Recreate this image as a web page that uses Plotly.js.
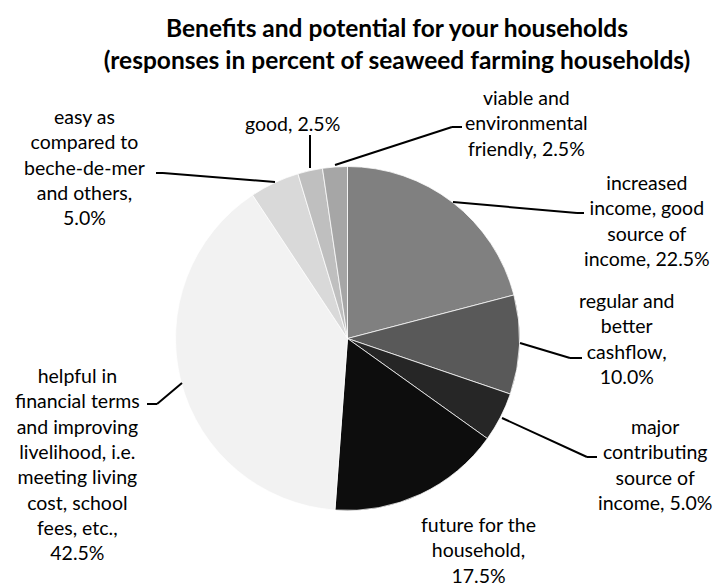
<!DOCTYPE html>
<html>
<head>
<meta charset="utf-8">
<script src="https://cdn.plot.ly/plotly-3.0.1.min.js"></script>
<style>html,body{margin:0;padding:0;background:#fff;}#chart{width:713px;height:586px;}</style>
</head>
<body>
<div id="chart"></div>
<script>
// Data
const categories = [
  "increased income, good source of income",
  "regular and better cashflow",
  "major contributing source of income",
  "future for the household",
  "helpful in financial terms and improving livelihood, i.e. meeting living cost, school fees, etc.",
  "easy as compared to beche-de-mer and others",
  "good",
  "viable and environmental friendly"
];
const values = [22.5, 10.0, 5.0, 17.5, 42.5, 5.0, 2.5, 2.5];
const labelTexts = [
  "increased<br>income, good<br>source of<br>income, 22.5%",
  "regular and<br>better<br>cashflow,<br>10.0%",
  "major<br>contributing<br>source of<br>income, 5.0%",
  "future for the<br>household,<br>17.5%",
  "helpful in<br>financial terms<br>and improving<br>livelihood, i.e.<br>meeting living<br>cost, school<br>fees, etc.,<br>42.5%",
  "easy as<br>compared to<br>beche-de-mer<br>and others,<br>5.0%",
  "good, 2.5%",
  "viable and<br>environmental<br>friendly, 2.5%"
];
const colors = ["#808080", "#595959", "#262626", "#0d0d0d", "#f2f2f2", "#d9d9d9", "#bfbfbf", "#a6a6a6"];

// Layout helpers (pixel -> paper)
const W = 713, H = 586;
const px = x => x / W;
const py = y => 1 - y / H;

// label centre positions (pixels)
const labelPos = [
  [647, 220], [626, 339], [655, 464], [478, 550],
  [77, 464], [84, 167], [292, 123], [526, 123]
];
// leader lines (pixel polylines)
const leaders = [
  [[453, 202], [577, 213], [584, 213]],
  [[520, 343], [570, 358], [582, 358]],
  [[502, 418], [587, 457], [597, 457]],
  null,
  [[182, 383], [157, 404], [147, 404]],
  [[275, 182], [163, 173], [156, 173]],
  [[310, 168], [310, 135]],
  [[335, 165], [452, 127], [462, 127]]
];

const font = "Lato, 'Open Sans', sans-serif";
const annotations = labelTexts.map((t, i) => ({
  text: t, xref: "paper", yref: "paper",
  x: px(labelPos[i][0]), y: py(labelPos[i][1]),
  xanchor: "center", yanchor: "middle", showarrow: false, align: "center",
  font: {family: font, size: 19.5, color: "#000"}
}));
const shapes = [];
leaders.forEach(l => {
  if (!l) return;
  for (let k = 0; k < l.length - 1; k++) {
    shapes.push({type: "line", xref: "paper", yref: "paper",
      x0: px(l[k][0]), y0: py(l[k][1]), x1: px(l[k+1][0]), y1: py(l[k+1][1]),
      line: {color: "#000", width: 2}});
  }
});

const cx = 347.5, cy = 338.5, r = 172;
const data = [{
  type: "pie",
  labels: categories,
  values: values,
  sort: false,
  direction: "clockwise",
  rotation: 0,
  textinfo: "none",
  hoverinfo: "label+percent",
  marker: {colors: colors, line: {color: "#ffffff", width: 0.75}},
  domain: {x: [px(cx - r), px(cx + r)], y: [py(cy + r), py(cy - r)]},
  showlegend: false
}];

const layout = {
  width: W, height: H,
  margin: {l: 0, r: 0, t: 0, b: 0},
  paper_bgcolor: "#fff",
  title: {
    text: "<b>Benefits and potential for your households<br>(responses in percent of seaweed farming households)</b>",
    x: px(397), xanchor: "center", xref: "paper",
    y: py(37), yanchor: "middle", yref: "container",
    font: {family: font, size: 24.5, color: "#000"}
  },
  annotations: annotations,
  shapes: shapes,
  showlegend: false
};

Plotly.newPlot("chart", data, layout, {displayModeBar: false, staticPlot: true});
</script>
</body>
</html>
